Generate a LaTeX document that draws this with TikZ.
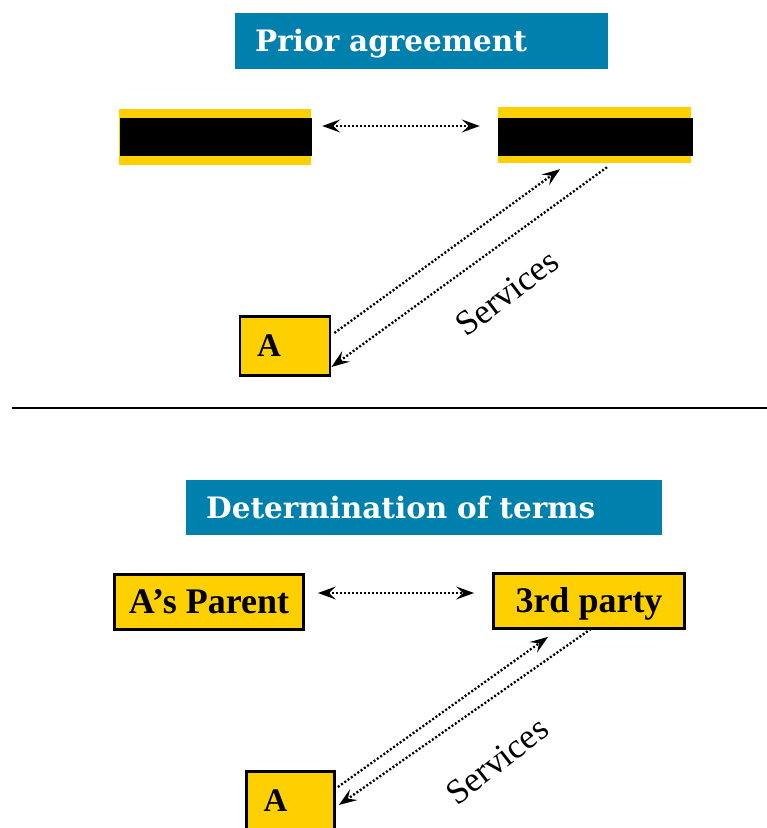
\documentclass[tikz,border=0pt]{standalone}
\usepackage{fontspec}
\usetikzlibrary{arrows.meta,calc}
\newfontfamily\headfont{DejaVu Serif}
\newfontfamily\boxfont{Liberation Serif}
\definecolor{bannerblue}{RGB}{0,128,173}
\definecolor{gold}{RGB}{255,208,0}
\tikzset{headtip/.tip={Stealth[length=18pt,width=13pt,inset=7pt]}}
\begin{document}
\begin{tikzpicture}[x=1pt,y=-1pt,
  banner/.style={fill=bannerblue,text=white,anchor=north west,
    font=\headfont\bfseries\fontsize{29.5}{32}\selectfont,align=left,
    inner xsep=20pt,inner ysep=0pt,text height=21pt,text depth=0pt},
  bar/.style={fill=gold,inner sep=0pt,minimum width=192pt,minimum height=56pt},
  goldbox/.style={draw=black,line width=2.8pt,fill=gold,inner sep=0pt,
    font=\boxfont\bfseries\fontsize{36}{38}\selectfont,text height=23.5pt,text depth=0pt},
  letterbox/.style={goldbox,font=\boxfont\bfseries\fontsize{33}{35}\selectfont,
    text height=21.5pt,align=left,inner xsep=17pt,text width=56pt},
  flow/.style={line width=2.3pt,dash pattern=on 2pt off 2pt},
  tip/.style={-{headtip}},
  bothtips/.style={{headtip}-{headtip}},
  tag/.style={font=\boxfont\fontsize{35}{37}\selectfont,inner sep=0pt}
]
\useasboundingbox (0,0) rectangle (767,828);

% ---- upper panel: prior agreement ----
\node[banner,minimum width=373pt,minimum height=56pt,text width=333pt] (t1) at (235,13) {Prior agreement};

\node[bar] (bar1) at (215,137) {};
\fill[black] ($(bar1.west)+(1,-19)$) rectangle ($(bar1.east)+(1,19)$);
\node[bar,minimum width=193pt] (bar2) at (594.5,135) {};
\fill[black] ($(bar2.west)+(0,-17)$) rectangle ($(bar2.east)+(2,21)$);

\draw[flow,bothtips] ($(bar1.east)+(11,-11)$) -- ($(bar2.west)+(-18,-9)$);

\node[letterbox,minimum width=89pt,minimum height=59pt] (a1) at (285,346) {A};

\draw[flow,tip] ($(a1.east)+(3,-13)$) -- ($(bar2.south)+(-34.5,6)$);
\draw[flow,tip] ($(bar2.south)+(12.5,4)$) -- ($(a1.east)+(0,21)$);
\node[tag,rotate=37] (s1) at (507,293) {Services};

% ---- divider ----
\coordinate (d1) at (12,408);
\coordinate (d2) at (767,408);
\draw[line width=2pt] (d1) -- (d2);

% ---- lower panel: determination of terms ----
\node[banner,minimum width=476pt,minimum height=55pt,text width=436pt] (t2) at (186,480) {Determination of terms};

\node[goldbox,minimum width=189pt,minimum height=55pt] (parent) at (209,602) {A’s Parent};
\node[goldbox,minimum width=191pt,minimum height=55pt] (third) at (589,601) {3rd party};

\draw[flow,bothtips] ($(parent.east)+(13,-9)$) -- ($(third.west)+(-18,-8)$);

\node[letterbox,minimum width=88pt,minimum height=59pt,inner xsep=17pt,text width=54pt] (a2) at (290.5,801) {A};

\draw[flow,tip] ($(a2.east)+(2,-14)$) -- ($(third.south)+(-41,7)$);
\draw[flow,tip] ($(third.south)+(2,-1)$) -- ($(a2.east)+(3,4)$);
\node[tag,rotate=38] (s2) at (497,761) {Services};
\end{tikzpicture}
\end{document}
